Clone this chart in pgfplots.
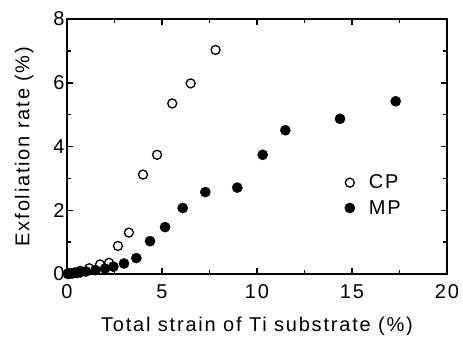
\documentclass[border=0pt]{standalone}
\usepackage{fontspec}
\setmainfont{Liberation Sans}[LetterSpace=9]
\usepackage{pgfplots}
\pgfplotsset{compat=1.18}
\newcommand{\bigf}{\fontsize{20bp}{24bp}\selectfont}
\begin{document}
\begin{tikzpicture}[font=\bigf]
\useasboundingbox (-67bp,-64bp) rectangle (396bp,274bp);
\begin{axis}[
  scale only axis, width=380bp, height=255bp,
  xmin=0, xmax=20, ymin=0, ymax=8,
  xtick={0,5,10,15,20}, ytick={0,2,4,6,8},
  minor xtick={2.5,7.5,12.5,17.5}, minor ytick={1,3,5,7},
  tick align=inside, ticks=both,
  major tick length=6bp, minor tick length=4bp,
  axis line style={line width=1.8bp},
  every tick/.style={line width=1.5bp, black},
  every tick label/.append style={font=\bigf},
  xticklabel style={yshift=-7bp},
  yticklabel style={xshift=1bp},
  label style={font=\bigf},
  /pgf/number format/assume math mode=true,
  xlabel={Total strain of Ti substrate (\%)},
  ylabel={Exfoliation rate (\%)},
  xlabel style={yshift=-11bp},
  ylabel style={yshift=13bp},
  clip=false,
  legend style={draw=none, fill=none, at={(axis cs:14.45,2.47)}, anchor=west,
    font=\bigf, row sep=6bp, nodes={inner sep=2bp},
    /tikz/every odd column/.append style={column sep=12bp}},
  legend cell align=left,
  legend image code/.code={\draw[#1] plot coordinates {(0.1cm,0cm)};},
]
\addplot[only marks, mark=o, mark size=4.5bp, line width=1.3bp, black] coordinates {
(0.05,0.02)(0.2,0.03)(0.4,0.05)(0.7,0.1)(1.17,0.18)(1.74,0.3)(2.21,0.35)(2.68,0.88)(3.26,1.3)(4.0,3.12)(4.74,3.74)(5.54,5.35)(6.51,5.98)(7.82,7.03)};
\addlegendentry{CP}
\addplot[only marks, mark=*, mark size=5.1bp, black] coordinates {
(0.05,0)(0.15,0.01)(0.3,0.02)(0.5,0.03)(0.7,0.05)(1.0,0.08)(1.5,0.12)(2.0,0.17)(2.44,0.23)(3.0,0.33)(3.65,0.5)(4.37,1.03)(5.16,1.47)(6.09,2.07)(7.28,2.57)(8.96,2.71)(10.3,3.74)(11.49,4.51)(14.37,4.87)(17.3,5.42)};
\addlegendentry{MP}
\end{axis}
\end{tikzpicture}
\end{document}
